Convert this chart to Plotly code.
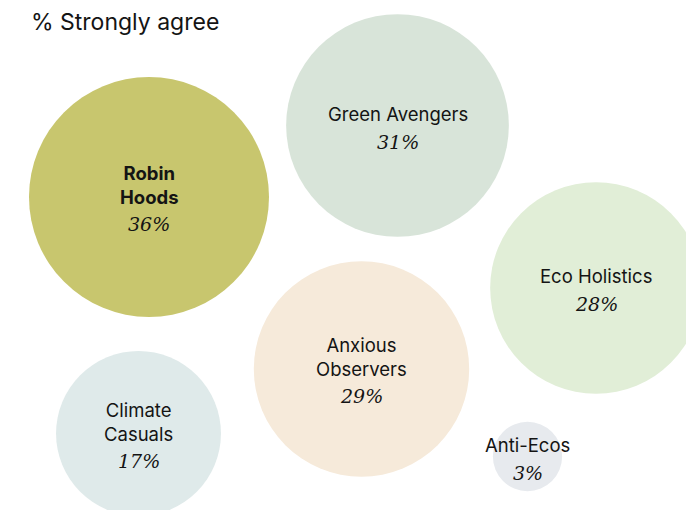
import numpy as np
import plotly.graph_objects as go

# Segment data: share who strongly agree
segments = ["Robin Hoods", "Green Avengers", "Eco Holistics",
            "Anxious Observers", "Climate Casuals", "Anti-Ecos"]
label_lines = ["<b>Robin<br>Hoods</b>", "Green Avengers", "Eco Holistics",
               "Anxious<br>Observers", "Climate<br>Casuals", "Anti-Ecos"]
pct_strongly_agree = [36, 31, 28, 29, 17, 3]

# Packed layout positions (plot units = pixels)
pos_x = [149, 397.5, 596, 361.5, 138.5, 527.5]
pos_y = [197, 125.5, 288, 369, 433.5, 456.5]

colors = ["#C8C66E", "#D8E4D9", "#E1EED7", "#F6EADA", "#DFEAEA", "#E7EAEE"]

W, H = 686, 510
# bubble area proportional to the value
diam = [40 * np.sqrt(v) for v in pct_strongly_agree]

fig = go.Figure()
fig.add_trace(go.Scatter(
    x=pos_x, y=pos_y, mode="markers",
    marker=dict(size=diam, sizemode="diameter", sizeref=1,
                color=colors, line=dict(width=0), opacity=1),
    hoverinfo="text", text=segments,
))

LABEL_FONT = "Inter, 'Noto Sans', sans-serif"
PCT_FONT = "'DejaVu Serif', 'Liberation Serif', serif"

for name, lab, v, cx, cy in zip(segments, label_lines, pct_strongly_agree, pos_x, pos_y):
    n = lab.count("<br>") + 1
    fig.add_annotation(x=cx, y=cy, text=lab, showarrow=False,
                       xanchor="center", yanchor="middle",
                       yshift=12, font=dict(family=LABEL_FONT, size=18.5, color="#141414"))
    fig.add_annotation(x=cx, y=cy, text=f"<i>{v}%</i>", showarrow=False,
                       xanchor="center", yanchor="middle",
                       yshift=-(16 + 11 * (n - 1)),
                       font=dict(family=PCT_FONT, size=19, color="#141414"))

fig.add_annotation(xref="paper", yref="paper", x=29 / W, y=1 - 22 / H,
                   text="% Strongly agree", showarrow=False,
                   xanchor="left", yanchor="middle",
                   font=dict(family=LABEL_FONT, size=23, color="#141414"))

fig.update_layout(
    width=W, height=H, margin=dict(l=0, r=0, t=0, b=0),
    paper_bgcolor="white", plot_bgcolor="white", showlegend=False,
    xaxis=dict(range=[0, W], visible=False, fixedrange=True),
    yaxis=dict(range=[H, 0], visible=False, fixedrange=True),
)

fig.write_html("out.html")
